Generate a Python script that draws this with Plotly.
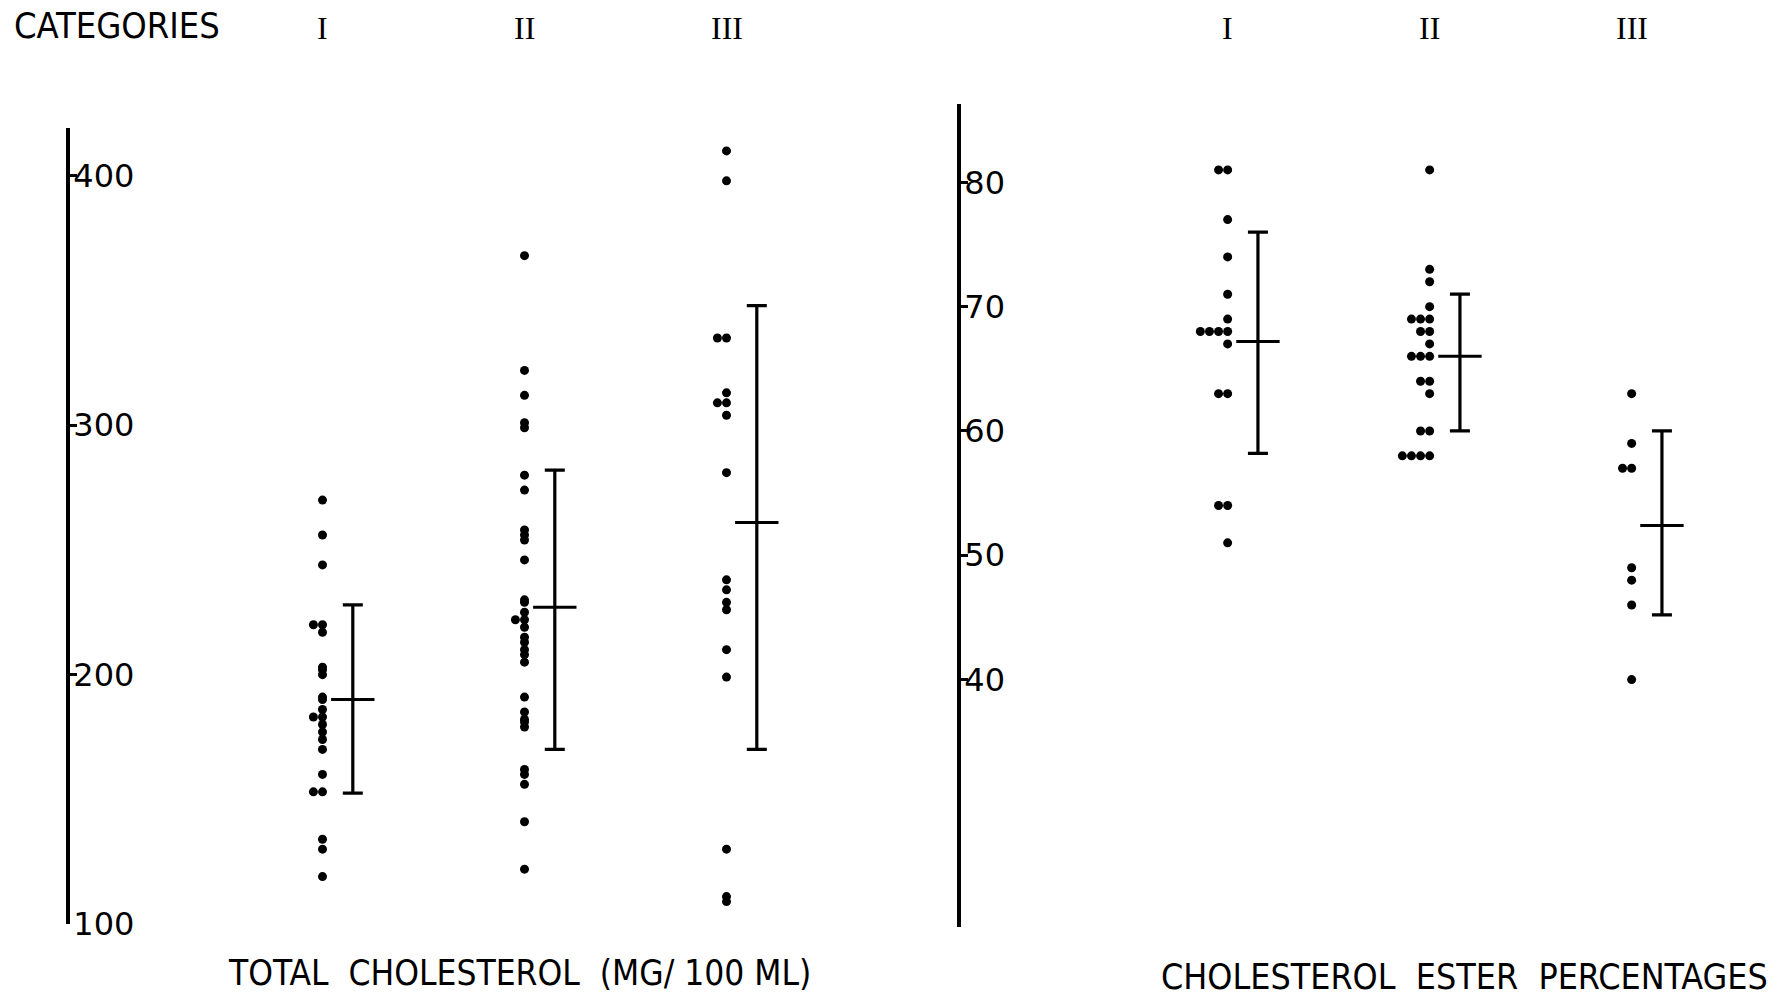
import plotly.graph_objects as go

# ---------------- data ----------------
categories = ["I", "II", "III"]
cat_pos = [1, 2, 3]

# Total cholesterol (mg/100 ml), individual values per category
chol_I = [270, 256, 244, 220, 220, 217, 203, 202, 200, 191, 190, 186, 183, 183,
          180, 177, 174, 170, 160, 153, 153, 134, 130, 119]
chol_II = [368, 322, 312, 301, 299, 280, 274, 258, 256, 254, 246, 230, 229, 225,
           222, 222, 219, 215, 213, 210, 208, 205, 191, 185, 182, 181, 179, 162,
           160, 156, 141, 122]
chol_III = [410, 398, 335, 335, 313, 309, 309, 304, 281, 238, 234, 229, 226, 210,
            199, 130, 111, 109]
chol_mean = [190, 227, 261]
chol_upper = [228, 282, 348]
chol_lower = [152.5, 170, 170]

# Cholesterol ester percentages
ester_I = [81, 81, 77, 74, 71, 69, 68, 68, 68, 68, 67, 63, 63, 54, 54, 51]
ester_II = [81, 73, 72, 70, 69, 69, 69, 68, 68, 67, 66, 66, 66, 64, 64, 63,
            60, 60, 58, 58, 58, 58]
ester_III = [63, 59, 57, 57, 49, 48, 46, 40]
ester_mean = [67.2, 66, 52.4]
ester_upper = [76, 71, 60]
ester_lower = [58.2, 60, 45.2]

chol_ticks = [100, 200, 300, 400]
ester_ticks = [40, 50, 60, 70, 80]

# ---------------- style ----------------
TIE_STEP = 0.045     # horizontal spacing of tied values (category units)
BAR_OFFSET = 0.15    # error bar placed right of the dot column
DOT_SIZE = 9
TXT = "DejaVu Sans Condensed, Liberation Sans Narrow, Liberation Sans, sans-serif"
NUM = "DejaVu Sans, sans-serif"
SERIF = "Liberation Serif, DejaVu Serif, serif"


def tie_offsets(values):
    seen = {}
    out = []
    for v in values:
        k = seen.get(v, 0)
        seen[v] = k + 1
        out.append(-k * TIE_STEP)
    return out


fig = go.Figure()


def add_panel(groups, means, uppers, lowers, xa, ya):
    for pos, vals in zip(cat_pos, groups):
        offs = tie_offsets(vals)
        fig.add_trace(go.Scatter(
            x=[pos + o for o in offs], y=vals, mode="markers",
            marker=dict(color="black", size=DOT_SIZE, line=dict(width=0)),
            xaxis=xa, yaxis=ya, showlegend=False, hoverinfo="y"))
    fig.add_trace(go.Scatter(
        x=[p + BAR_OFFSET for p in cat_pos], y=means, mode="markers",
        marker=dict(symbol="line-ew", size=31, color="black",
                    line=dict(color="black", width=3)),
        error_y=dict(type="data", symmetric=False,
                     array=[u - m for u, m in zip(uppers, means)],
                     arrayminus=[m - l for m, l in zip(means, lowers)],
                     color="black", thickness=3.2, width=10),
        xaxis=xa, yaxis=ya, showlegend=False, hoverinfo="y"))


add_panel([chol_I, chol_II, chol_III], chol_mean, chol_upper, chol_lower, "x", "y")
add_panel([ester_I, ester_II, ester_III], ester_mean, ester_upper, ester_lower, "x2", "y2")

W, H = 1777, 997

yax_common = dict(showgrid=False, zeroline=False, showline=True, linecolor="black",
                  linewidth=3.5, ticks="inside", ticklen=7, tickwidth=2.5, tickcolor="black",
                  ticklabelposition="inside", ticklabeloverflow="allow", automargin=False,
                  tickfont=dict(family=NUM, size=32, color="black"))
xax_common = dict(showgrid=False, zeroline=False, showline=False, showticklabels=False,
                  ticks="", automargin=False)

fig.update_layout(
    width=W, height=H,
    margin=dict(l=0, r=0, t=0, b=0, autoexpand=False),
    paper_bgcolor="white", plot_bgcolor="white",
    xaxis=dict(domain=[70 / W, 880 / W], range=[-0.25, -0.25 + 810 / 202],
               anchor="y", **xax_common),
    yaxis=dict(domain=[1 - 924 / H, 1 - 128 / H], range=[100, 419.2],
               tickvals=chol_ticks, anchor="x", **yax_common),
    xaxis2=dict(domain=[961 / W, 1.0], range=[-0.32, -0.32 + 816 / 202],
                anchor="y2", **xax_common),
    yaxis2=dict(domain=[1 - 927 / H, 1 - 104 / H], range=[20.1, 86.3],
                tickvals=ester_ticks, anchor="x2", **yax_common),
)

annotations = [
    dict(text="CATEGORIES", xref="paper", yref="paper", x=12 / W, y=1 - 26 / H,
         xanchor="left", yanchor="middle", showarrow=False,
         font=dict(family=TXT, size=36, color="black")),
    dict(text="TOTAL  CHOLESTEROL  (MG/ 100 ML)", xref="paper", yref="paper",
         x=519 / W, y=1 - 973 / H, xanchor="center", yanchor="middle", showarrow=False,
         font=dict(family=TXT, size=35, color="black")),
    dict(text="CHOLESTEROL  ESTER  PERCENTAGES", xref="paper", yref="paper",
         x=1464 / W, y=1 - 976 / H, xanchor="center", yanchor="middle", showarrow=False,
         font=dict(family=TXT, size=35.5, color="black")),
]
for xa in ["x", "x2"]:
    for pos, lab in zip(cat_pos, categories):
        annotations.append(dict(text=lab, xref=xa, yref="paper", x=pos, y=1 - 28 / H,
                                xanchor="center", yanchor="middle", showarrow=False,
                                font=dict(family=SERIF, size=32, color="black")))
fig.update_layout(annotations=annotations)

fig.write_html("out.html")
